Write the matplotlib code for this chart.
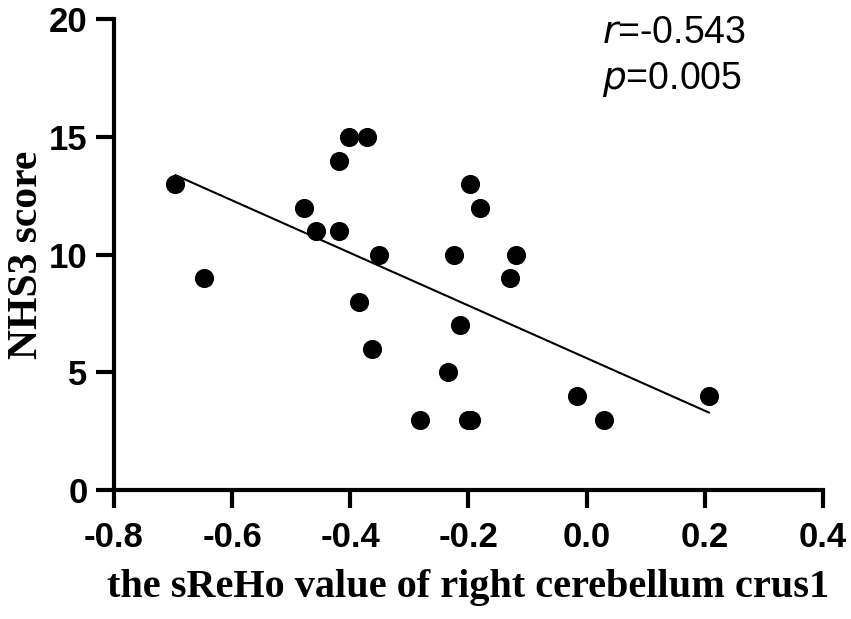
import numpy as np
import matplotlib.pyplot as plt

# sReHo value (x) vs NHS3 score (y)
sreho = [-0.696, -0.648, -0.479, -0.458, -0.420, -0.419, -0.403, -0.372,
         -0.351, -0.386, -0.363, -0.282, -0.235, -0.225, -0.215, -0.197,
         -0.181, -0.200, -0.195, -0.120, -0.130, -0.016, 0.029, 0.207]
nhs3 = [13, 9, 12, 11, 14, 11, 15, 15,
        10, 8, 6, 3, 5, 10, 7, 13,
        12, 3, 3, 10, 9, 4, 3, 4]

x_ticks = [-0.8, -0.6, -0.4, -0.2, 0.0, 0.2, 0.4]
y_ticks = [0, 5, 10, 15, 20]

x = np.array(sreho)
y = np.array(nhs3)
slope, intercept = np.polyfit(x, y, 1)
xl = np.array([x.min(), x.max()])

fig = plt.figure(figsize=(8.51, 6.19), dpi=100)
ax = fig.add_axes([0.134, 0.208, 0.833, 0.761])

ax.scatter(x, y, s=190, color='black', zorder=3, linewidths=0)
ax.plot(xl, slope * xl + intercept, color='black', lw=1.5, zorder=2)

ax.set_xlim(-0.8, 0.4)
ax.set_ylim(0, 20)
ax.set_xticks(x_ticks)
ax.set_xticklabels(['%.1f' % t for t in x_ticks])
ax.set_yticks(y_ticks)

for s in ['top', 'right']:
    ax.spines[s].set_visible(False)
for s in ['left', 'bottom']:
    ax.spines[s].set_linewidth(3)
ax.tick_params(width=3, length=13, pad=6)
ax.tick_params(axis='x', pad=9)
for lab in ax.get_xticklabels() + ax.get_yticklabels():
    lab.set_fontfamily('Liberation Sans')
    lab.set_fontweight('bold')
    lab.set_fontsize(25)

ax.set_xlabel('the sReHo value of right cerebellum crus1', family='Liberation Serif',
              fontweight='bold', fontsize=29, labelpad=11)
ax.set_ylabel('NHS3 score', family='Liberation Serif', fontweight='bold',
              fontsize=30, labelpad=2)

ax.text(0.689, 0.949, r'$\it{r}$=-0.543', transform=ax.transAxes,
        family='Liberation Sans', fontsize=27, va='baseline')
ax.text(0.689, 0.852, r'$\it{p}$=0.005', transform=ax.transAxes,
        family='Liberation Sans', fontsize=27, va='baseline')

fig.savefig('out.png', dpi=100)
